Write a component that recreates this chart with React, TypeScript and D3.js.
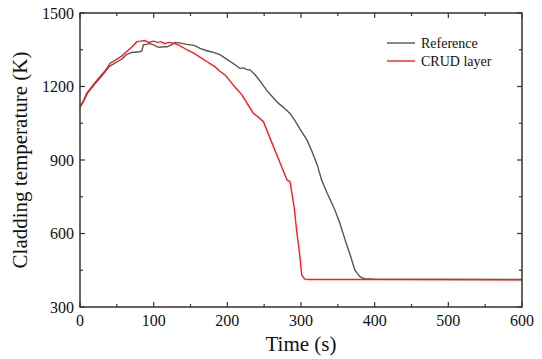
import React from "react";
import * as d3 from "d3";

const refTime = [0,5,10,20,30,40,50,57,63,70,81,84,86,90,95,100,105,108,113,118,123,129,135,145,155,163,170,180,190,200,210,217,222,226,231,238,245,253,262,270,278,285,292,300,308,315,322,328,335,346,353,360,367,373,377,380,385,390,400,500,600];
const refTemp = [1116,1140,1172,1210,1245,1282,1300,1312,1330,1339,1342,1345,1370,1372,1375,1370,1362,1360,1362,1362,1368,1380,1378,1372,1368,1356,1348,1340,1330,1310,1290,1274,1276,1270,1267,1247,1220,1186,1155,1130,1110,1090,1060,1020,982,935,880,818,768,696,640,573,510,451,435,424,417,414,413,412,412];

const crudTime = [0,5,9,15,20,27,35,41,50,57,63,70,77,82,88,93,100,105,110,115,120,127,135,145,155,163,173,183,190,197,203,208,220,235,242,249,260,270,281,285,287,291,294,298,301,305,310,400,500,600];
const crudTemp = [1116,1145,1172,1195,1215,1240,1268,1295,1312,1325,1342,1360,1383,1385,1388,1380,1385,1380,1383,1375,1380,1377,1368,1350,1335,1320,1300,1281,1262,1247,1225,1206,1165,1092,1075,1056,974,900,818,812,777,700,614,520,431,414,412,412,412,411];

const xMajor = [0,100,200,300,400,500,600];
const xMinor = [50,150,250,350,450,550];
const yMajor = [300,600,900,1200,1500];
const yMinor = [450,750,1050,1350];

const seriesNames = ["Reference", "CRUD layer"];
const seriesColors = ["#555555", "#ff1c1c"];

export default function App() {
  const W = 542, H = 359;
  const L = 80, R = 522, T = 13, B = 307;
  const x = d3.scaleLinear().domain([0, 600]).range([L, R]);
  const y = d3.scaleLinear().domain([300, 1500]).range([B, T]);
  const line = d3.line<[number, number]>().x(d => x(d[0])).y(d => y(d[1]));
  const refData = refTime.map((t, i) => [t, refTemp[i]] as [number, number]);
  const crudData = crudTime.map((t, i) => [t, crudTemp[i]] as [number, number]);
  const font = "Liberation Serif";
  const ts = { fontFamily: font };
  const axisColor = "#333";
  const maj = 5, mnr = 3;
  return (
    <svg width={W} height={H} style={{ position: "absolute", left: 0, top: 0, background: "#fff" }}>
      <path d={line(refData) || ""} fill="none" stroke={seriesColors[0]} strokeWidth={1.4} />
      <path d={line(crudData) || ""} fill="none" stroke={seriesColors[1]} strokeWidth={1.4} />
      <rect x={L} y={T} width={R - L} height={B - T} fill="none" stroke={axisColor} strokeWidth={1.5} />
      {xMajor.map(v => (
        <g key={"xm" + v}>
          <line x1={x(v)} x2={x(v)} y1={B} y2={B - maj} stroke={axisColor} strokeWidth={1.2} />
          <line x1={x(v)} x2={x(v)} y1={T} y2={T + maj} stroke={axisColor} strokeWidth={1.2} />
          <text x={x(v)} y={B + 19} textAnchor="middle" style={ts} fontSize={16} fill="#111">{v}</text>
        </g>
      ))}
      {xMinor.map(v => (
        <g key={"xn" + v}>
          <line x1={x(v)} x2={x(v)} y1={B} y2={B - mnr} stroke={axisColor} strokeWidth={1.2} />
          <line x1={x(v)} x2={x(v)} y1={T} y2={T + mnr} stroke={axisColor} strokeWidth={1.2} />
        </g>
      ))}
      {yMajor.map(v => (
        <g key={"ym" + v}>
          <line x1={L} x2={L + maj} y1={y(v)} y2={y(v)} stroke={axisColor} strokeWidth={1.2} />
          <line x1={R} x2={R - maj} y1={y(v)} y2={y(v)} stroke={axisColor} strokeWidth={1.2} />
          <text x={L - 6} y={y(v) + 5.5} textAnchor="end" style={ts} fontSize={16} fill="#111">{v}</text>
        </g>
      ))}
      {yMinor.map(v => (
        <g key={"yn" + v}>
          <line x1={L} x2={L + mnr} y1={y(v)} y2={y(v)} stroke={axisColor} strokeWidth={1.2} />
          <line x1={R} x2={R - mnr} y1={y(v)} y2={y(v)} stroke={axisColor} strokeWidth={1.2} />
        </g>
      ))}
      <text x={(L + R) / 2} y={351} textAnchor="middle" style={ts} fontSize={21} fill="#111">Time (s)</text>
      <text transform={`translate(27, ${(T + B) / 2}) rotate(-90)`} textAnchor="middle" style={ts} fontSize={21} fill="#111">Cladding temperature (K)</text>
      {seriesNames.map((n, i) => (
        <g key={n}>
          <line x1={387} x2={415} y1={43 + i * 18} y2={43 + i * 18} stroke={seriesColors[i]} strokeWidth={1.4} />
          <text x={421} y={48 + i * 18} style={ts} fontSize={14} fill="#111">{n}</text>
        </g>
      ))}
    </svg>
  );
}
